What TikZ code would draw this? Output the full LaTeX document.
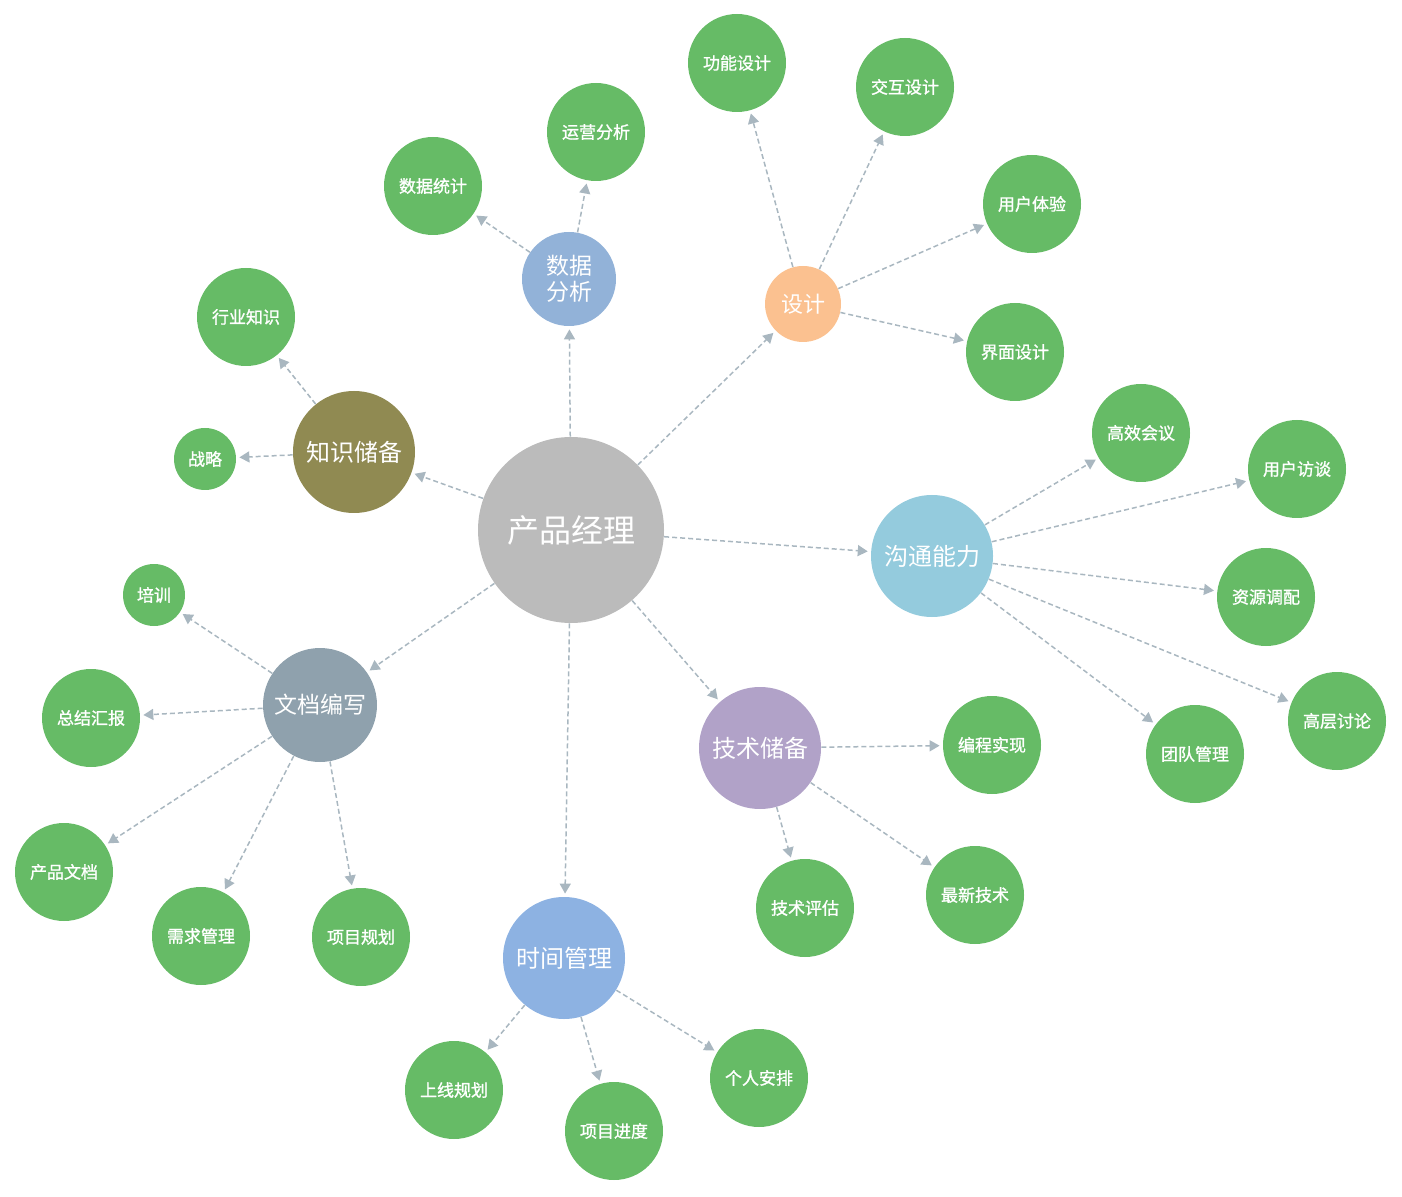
\documentclass[tikz,border=0pt]{standalone}
\usepackage{fontspec}
\newfontfamily\cjk{Noto Sans CJK SC}
\newfontfamily\cjkleaf[FakeBold=1.2]{Noto Sans CJK SC}
\usetikzlibrary{arrows.meta}
\definecolor{hubgray}{HTML}{BBBBBB}
\definecolor{olive}{HTML}{908A52}
\definecolor{dataclr}{HTML}{92B2D8}
\definecolor{designclr}{HTML}{FBC190}
\definecolor{commclr}{HTML}{94CBDD}
\definecolor{techclr}{HTML}{B1A2C8}
\definecolor{timeclr}{HTML}{8DB2E2}
\definecolor{docclr}{HTML}{8FA1AD}
\definecolor{leafgreen}{HTML}{66BB66}
\definecolor{linkgray}{HTML}{A9B7C0}
\tikzset{
  hub/.style={circle, inner sep=0pt, text=white, font=\cjk\fontsize{12}{14}\selectfont, align=center},
  leaf/.style={circle, fill=leafgreen, inner sep=0pt, minimum size=49pt, text=white, font=\cjkleaf\fontsize{8.5}{10}\selectfont},
  link/.style={draw=linkgray, line width=0.75pt, dash pattern=on 2.5pt off 1.5pt, shorten >=1.5pt, -{Triangle[length=5pt,width=5.5pt]}}
}
\begin{document}
\begin{tikzpicture}[x=0.5pt, y=-0.5pt]
\useasboundingbox (0,0) rectangle (1402,1197);
% centre et branches
\node[hub, fill=hubgray, minimum size=93pt, font=\cjk\fontsize{16}{18}\selectfont] (pm) at (571,530) {产品经理};
\node[hub, fill=olive, minimum size=61pt] (zs) at (354,452) {知识储备};
\node[hub, fill=dataclr, minimum size=47pt, font=\cjk\fontsize{11.5}{13}\selectfont] (sjfx) at (569,279) {数据\\分析};
\node[hub, fill=designclr, minimum size=38pt, font=\cjk\fontsize{11}{13}\selectfont] (sheji) at (803,304) {设计};
\node[hub, fill=commclr, minimum size=61pt] (gt) at (932,556) {沟通能力};
\node[hub, fill=techclr, minimum size=61pt] (js) at (760,748) {技术储备};
\node[hub, fill=timeclr, minimum size=61pt] (sj) at (564,958) {时间管理};
\node[hub, fill=docclr, minimum size=57pt, font=\cjk\fontsize{11.5}{13}\selectfont] (wd) at (320,705) {文档编写};
% feuilles
\foreach \n/\x/\y/\t in {hyzs/246/317/行业知识, sjtj/433/186/数据统计, yyfx/596/132/运营分析,
  gnsj/737/63/功能设计, jhsj/905/87/交互设计, yhty/1032/204/用户体验, jmsj/1015/352/界面设计,
  gxhy/1141/433/高效会议, yhft/1297/469/用户访谈, zydp/1266/597/资源调配, gcjt/1337/721/高层讨论,
  tdgl/1195/754/团队管理, bcsx/992/745/编程实现, zxjs/975/895/最新技术, jspg/805/908/技术评估,
  grap/759/1078/个人安排, xmjd/614/1131/项目进度, sxgh/454/1090/上线规划, xmgh/361/937/项目规划,
  xqgl/201/936/需求管理, cpwd/64/872/产品文档, zjhb/91/718/总结汇报}
  \node[leaf] (\n) at (\x,\y) {\t};
\node[leaf, minimum size=31pt] (zl) at (205,459) {战略};
\node[leaf, minimum size=31pt] (px) at (154,595) {培训};
% liens
\foreach \a/\b in {pm/zs, pm/sjfx, pm/sheji, pm/gt, pm/js, pm/sj, pm/wd,
  zs/hyzs, zs/zl, sjfx/sjtj, sjfx/yyfx,
  sheji/gnsj, sheji/jhsj, sheji/yhty, sheji/jmsj,
  gt/gxhy, gt/yhft, gt/zydp, gt/gcjt, gt/tdgl,
  js/bcsx, js/zxjs, js/jspg, sj/grap, sj/xmjd, sj/sxgh,
  wd/px, wd/zjhb, wd/cpwd, wd/xqgl, wd/xmgh}
  \draw[link] (\a) -- (\b);
\end{tikzpicture}
\end{document}
